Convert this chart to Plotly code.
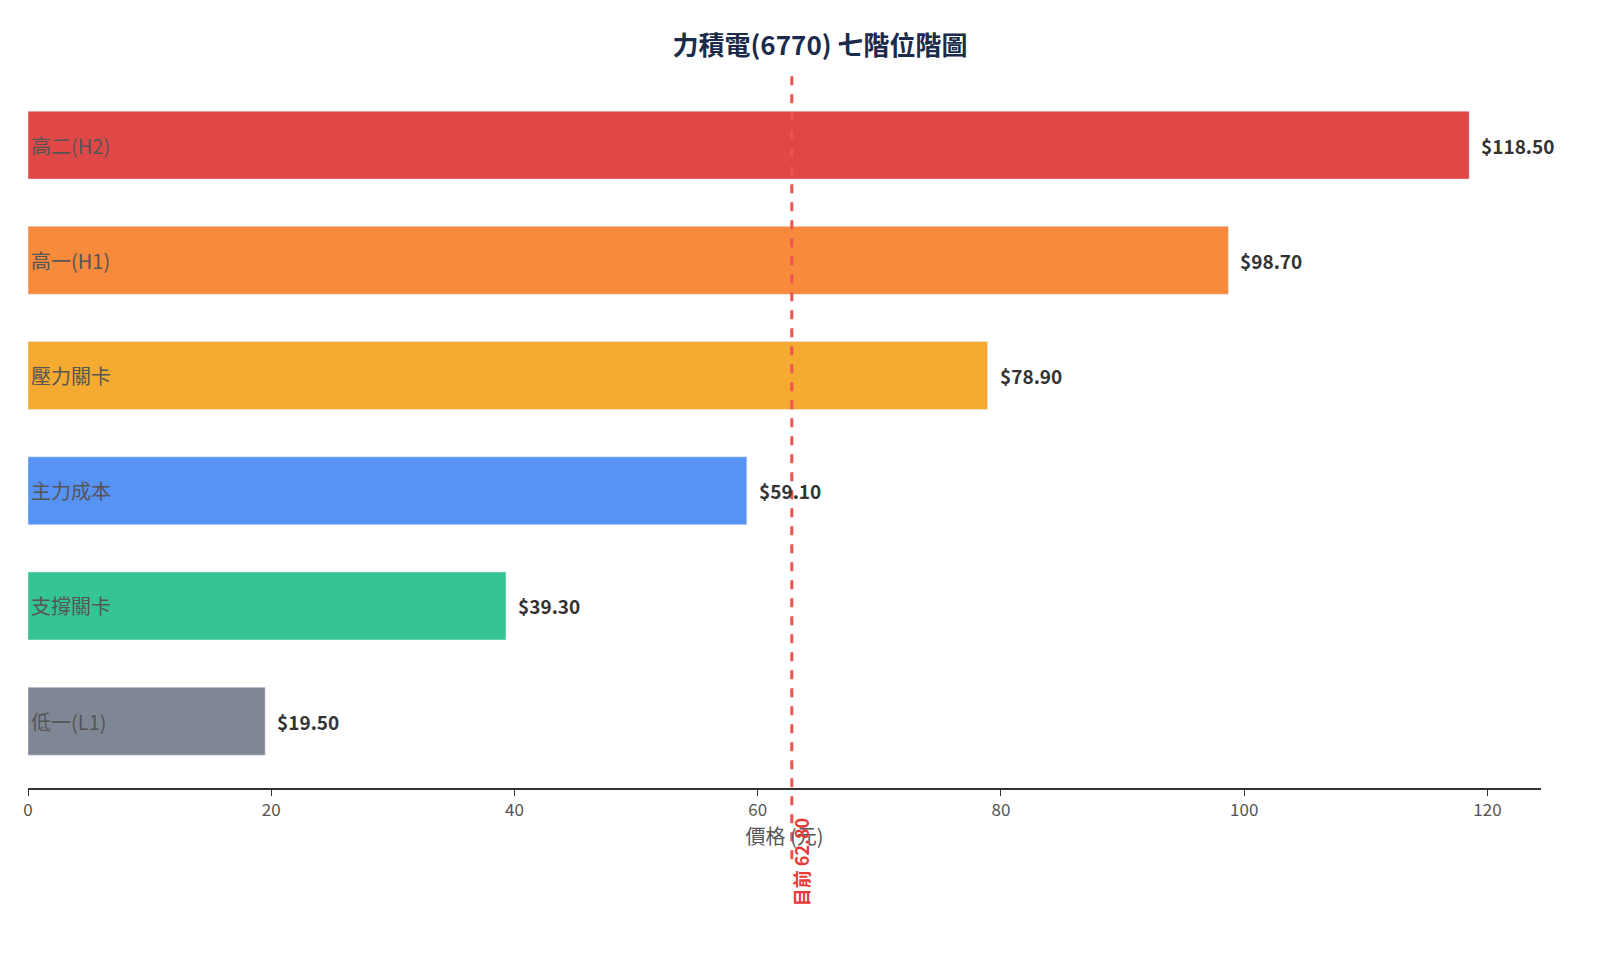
import plotly.graph_objects as go

labels = ["低一(L1)", "支撐關卡", "主力成本", "壓力關卡", "高一(H1)", "高二(H2)"]
values = [19.5, 39.3, 59.1, 78.9, 98.7, 118.5]
colors = ["#808794", "#35c493", "#5793f5", "#f5ab32", "#f78a3b", "#e04848"]
current = 62.80
ticks = [0, 20, 40, 60, 80, 100, 120]

font = "Noto Sans CJK TC"
fig = go.Figure(go.Bar(
    x=values, y=labels, orientation="h", marker=dict(color=colors),
    width=0.59, text=labels, textposition="inside", insidetextanchor="start",
    textfont=dict(color="#555555", size=20, family=font), hoverinfo="skip"))

for v, l in zip(values, labels):
    fig.add_annotation(x=v, y=l, text=f"<b>${v:.2f}</b>", showarrow=False,
                       xanchor="left", xshift=10, font=dict(size=19, color="#333333", family=font))

fig.add_shape(type="line", x0=current, x1=current, xref="x", yref="paper", y0=-0.1, y1=1,
              line=dict(color="#ef5350", width=3, dash="dash"))
fig.add_annotation(x=current, xref="x", yref="paper", y=-0.04, yanchor="top", xanchor="center",
                   xshift=10, text="<b>目前 62.80</b>", textangle=-90, showarrow=False,
                   font=dict(size=18, color="#e53935", family=font))

fig.update_layout(
    width=1624, height=957, plot_bgcolor="white", paper_bgcolor="white",
    margin=dict(l=20, r=91, t=68, b=177), showlegend=False, bargap=0.4,
    font=dict(family=font, color="#555555"),
    title=dict(text="<b>力積電(6770) 七階位階圖</b>", x=0.5, xanchor="center", y=0.97,
               font=dict(size=26, color="#1a2b4c", family=font)),
    xaxis=dict(range=[0, 124.4], tickvals=ticks, showgrid=False, zeroline=False,
               showline=True, linecolor="#333333", linewidth=2, ticks="outside",
               tickcolor="#333333", ticklen=6, tickfont=dict(size=17, color="#555555"),
               title=dict(text="價格 (元)", font=dict(size=20, color="#555555"), standoff=10)),
    yaxis=dict(showticklabels=False, showgrid=False, zeroline=False, showline=False,
               range=[-0.58, 5.6]),
)
fig.write_html("out.html")
